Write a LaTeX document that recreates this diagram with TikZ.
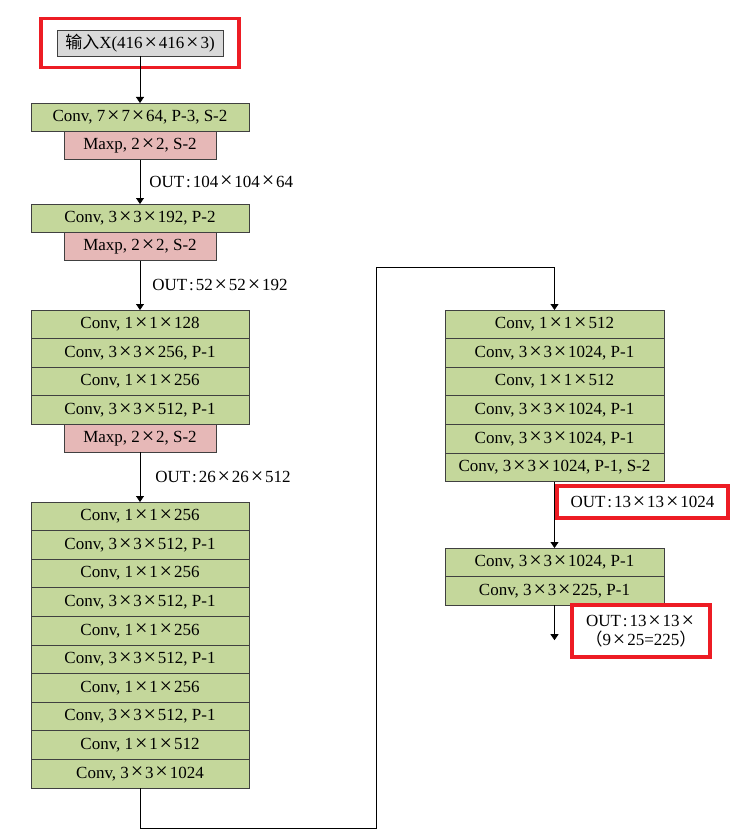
\documentclass[tikz,border=0pt]{standalone}
\usepackage{fontspec}
\setmainfont{Liberation Serif}
\newfontfamily\cjk{Noto Sans CJK SC}
\usetikzlibrary{positioning,arrows.meta,fit}

\definecolor{convgreen}{HTML}{C4D79B}
\definecolor{maxppink}{HTML}{E6B8B7}
\definecolor{inputgray}{HTML}{D9D9D9}
\definecolor{hired}{HTML}{ED1C24}

\newcommand{\by}{\makebox[0.95em]{\raisebox{-0.05em}{\scalebox{1.3}{×}}}}
\newcommand{\cl}{\makebox[0.5em]{:}}

\begin{document}
\begin{tikzpicture}[
    x=1pt, y=-1pt,
    font=\fontsize{17}{19}\selectfont,
    >={Triangle[length=6pt,width=8pt]},
    node distance=0pt,
    box/.style={
        draw=black!75,
        line width=0.8pt,
        align=center,
        inner sep=2pt,
        outer sep=0pt
    },
    convbox/.style={
        box,
        fill=convgreen,
        minimum width=218pt,
        minimum height=28.6pt
    },
    maxpbox/.style={
        box,
        fill=maxppink,
        minimum width=152pt,
        minimum height=28pt
    },
    inputbox/.style={
        box,
        fill=inputgray,
        minimum width=166pt,
        minimum height=26pt
    },
    outlabel/.style={
        inner sep=1pt,
        anchor=west
    },
    hilite/.style={
        draw=hired,
        line width=3.5pt,
        inner sep=0pt
    },
    link/.style={
        ->,
        line width=0.8pt
    }
]
\useasboundingbox (0,0) rectangle (744,840);

% Input
\node[inputbox] (input) at (140,43) {{\cjk 输入}X(416\by416\by3)};
\node[hilite, fit=(input), inner xsep=16pt, inner ysep=11.5pt] (input_frame) {};

% Stage 1
\node[convbox, anchor=north] (conv1) at (140,103) {Conv, 7\by7\by64, P-3, S-2};
\node[maxpbox, below=of conv1] (maxp1) {Maxp, 2\by2, S-2};

% Stage 2
\node[convbox, anchor=north] (conv2) at (140,204) {Conv, 3\by3\by192, P-2};
\node[maxpbox, below=of conv2] (maxp2) {Maxp, 2\by2, S-2};

% Stage 3
\node[convbox, anchor=north] (conv3_1) at (140,310) {Conv, 1\by1\by128};
\node[convbox, below=of conv3_1] (conv3_2) {Conv, 3\by3\by256, P-1};
\node[convbox, below=of conv3_2] (conv3_3) {Conv, 1\by1\by256};
\node[convbox, below=of conv3_3] (conv3_4) {Conv, 3\by3\by512, P-1};
\node[maxpbox, below=of conv3_4] (maxp3) {Maxp, 2\by2, S-2};

% Stage 4
\node[convbox, anchor=north] (conv4_1) at (140,502) {Conv, 1\by1\by256};
\node[convbox, below=of conv4_1] (conv4_2) {Conv, 3\by3\by512, P-1};
\node[convbox, below=of conv4_2] (conv4_3) {Conv, 1\by1\by256};
\node[convbox, below=of conv4_3] (conv4_4) {Conv, 3\by3\by512, P-1};
\node[convbox, below=of conv4_4] (conv4_5) {Conv, 1\by1\by256};
\node[convbox, below=of conv4_5] (conv4_6) {Conv, 3\by3\by512, P-1};
\node[convbox, below=of conv4_6] (conv4_7) {Conv, 1\by1\by256};
\node[convbox, below=of conv4_7] (conv4_8) {Conv, 3\by3\by512, P-1};
\node[convbox, below=of conv4_8] (conv4_9) {Conv, 1\by1\by512};
\node[convbox, below=of conv4_9] (conv4_10) {Conv, 3\by3\by1024};

% Stage 5
\node[convbox, anchor=north, minimum width=219pt] (conv5_1) at (554.5,310) {Conv, 1\by1\by512};
\node[convbox, below=of conv5_1, minimum width=219pt] (conv5_2) {Conv, 3\by3\by1024, P-1};
\node[convbox, below=of conv5_2, minimum width=219pt] (conv5_3) {Conv, 1\by1\by512};
\node[convbox, below=of conv5_3, minimum width=219pt] (conv5_4) {Conv, 3\by3\by1024, P-1};
\node[convbox, below=of conv5_4, minimum width=219pt] (conv5_5) {Conv, 3\by3\by1024, P-1};
\node[convbox, below=of conv5_5, minimum width=219pt] (conv5_6) {Conv, 3\by3\by1024, P-1, S-2};

% Stage 6
\node[convbox, anchor=north, minimum width=219pt] (conv6_1) at (554.5,548) {Conv, 3\by3\by1024, P-1};
\node[convbox, below=of conv6_1, minimum width=219pt] (conv6_2) {Conv, 3\by3\by225, P-1};

% Outputs
\node[hilite, minimum width=171pt, minimum height=32pt] (out5) at (642.5,502) {OUT\cl13\by13\by1024};
\node[hilite, minimum width=138pt, minimum height=52pt, align=center] (out6) at (641,631) {OUT\cl13\by13\by\\{\cjk （}9\by25=225{\cjk ）}};

% Connectors
\coordinate (low_turn) at (376,828);
\coordinate (high_turn) at (376,267);
\coordinate[below=35pt of conv6_2.south] (out_end);

\draw[link] (input) -- (conv1);
\draw[link] (maxp1) -- node[outlabel, right=8pt] (out1) {OUT\cl104\by104\by64} (conv2);
\draw[link] (maxp2) -- node[outlabel, right=11pt] (out2) {OUT\cl52\by52\by192} (conv3_1);
\draw[link] (maxp3) -- node[outlabel, right=14pt] (out3) {OUT\cl26\by26\by512} (conv4_1);
\draw[link] (conv4_10.south) |- (low_turn) -- (high_turn) -| (conv5_1.north);
\draw[link] (conv5_6) -- (conv6_1);
\draw[link] (conv6_2) -- (out_end);

\end{tikzpicture}
\end{document}
